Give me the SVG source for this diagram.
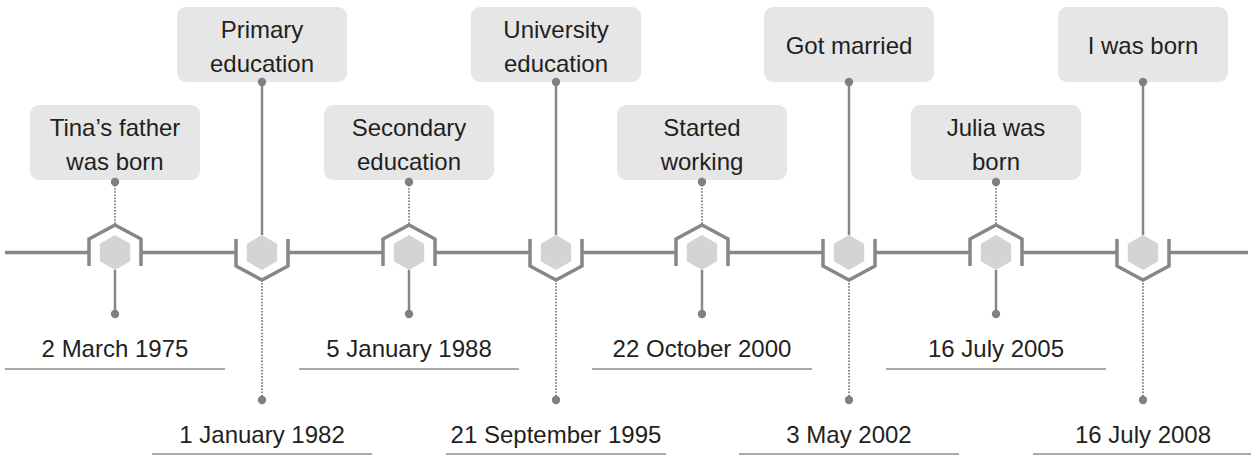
<svg xmlns="http://www.w3.org/2000/svg" xmlns:xlink="http://www.w3.org/1999/xlink" width="1251" height="456" viewBox="0 0 1251 456">
<style>
.main{stroke:#87878a;stroke-width:3.5;fill:none}
.outline{stroke:#87878a;stroke-width:3.5;fill:none;stroke-linejoin:miter}
.hex{fill:#d4d4d6}
.box{fill:#e6e6e7}
.solid{stroke:#87878a;stroke-width:2.5}
.dotted{stroke:#87878a;stroke-width:2;stroke-dasharray:1.5 1.6}
.dot{fill:#808084}
.ul{stroke:#8d8d90;stroke-width:1.5}
text{font-family:"Liberation Sans",Arial,sans-serif;font-size:24px;fill:#231f20;text-anchor:middle}
</style>
<defs>
<polygon id="hx" class="hex" points="0,235 15.2,243.75 15.2,261.25 0,270 -15.2,261.25 -15.2,243.75"/>
<polyline id="upo" class="outline" points="-26,266 -26,239 0,225 26,239 26,266"/>
<polyline id="dno" class="outline" points="-26,239 -26,266 0,280 26,266 26,239"/>
</defs>
<g id="connectors">
<line class="main" x1="5" y1="252.5" x2="89" y2="252.5"/>
<line class="main" x1="141" y1="252.5" x2="236" y2="252.5"/>
<line class="main" x1="288" y1="252.5" x2="383" y2="252.5"/>
<line class="main" x1="435" y1="252.5" x2="530" y2="252.5"/>
<line class="main" x1="582" y1="252.5" x2="676" y2="252.5"/>
<line class="main" x1="728" y1="252.5" x2="823" y2="252.5"/>
<line class="main" x1="875" y1="252.5" x2="970" y2="252.5"/>
<line class="main" x1="1022" y1="252.5" x2="1117" y2="252.5"/>
<line class="main" x1="1169" y1="252.5" x2="1248" y2="252.5"/>
</g>
<g id="n1">
<rect class="box" x="30" y="105" width="170" height="75" rx="9"/>
<text x="115" y="136">Tina’s father</text><text x="115" y="170">was born</text>
<line class="dotted" x1="115" y1="182" x2="115" y2="225"/><circle class="dot" cx="115" cy="182" r="4.2"/>
<use xlink:href="#upo" x="115"/><use xlink:href="#hx" x="115"/>
<line class="solid" x1="115" y1="270" x2="115" y2="314"/><circle class="dot" cx="115" cy="314" r="4.2"/>
<text x="115" y="357">2 March 1975</text>
<line class="ul" x1="5" y1="369" x2="225" y2="369"/>
</g>
<g id="n2">
<rect class="box" x="177" y="7" width="170" height="75" rx="9"/>
<text x="262" y="38">Primary</text><text x="262" y="72">education</text>
<line class="solid" x1="262" y1="82" x2="262" y2="235"/><circle class="dot" cx="262" cy="82" r="4.2"/>
<use xlink:href="#dno" x="262"/><use xlink:href="#hx" x="262"/>
<line class="dotted" x1="262" y1="280" x2="262" y2="400"/><circle class="dot" cx="262" cy="400" r="4.2"/>
<text x="262" y="443">1 January 1982</text>
<line class="ul" x1="152" y1="454" x2="372" y2="454"/>
</g>
<g id="n3">
<rect class="box" x="324" y="105" width="170" height="75" rx="9"/>
<text x="409" y="136">Secondary</text><text x="409" y="170">education</text>
<line class="dotted" x1="409" y1="182" x2="409" y2="225"/><circle class="dot" cx="409" cy="182" r="4.2"/>
<use xlink:href="#upo" x="409"/><use xlink:href="#hx" x="409"/>
<line class="solid" x1="409" y1="270" x2="409" y2="314"/><circle class="dot" cx="409" cy="314" r="4.2"/>
<text x="409" y="357">5 January 1988</text>
<line class="ul" x1="299" y1="369" x2="519" y2="369"/>
</g>
<g id="n4">
<rect class="box" x="471" y="7" width="170" height="75" rx="9"/>
<text x="556" y="38">University</text><text x="556" y="72">education</text>
<line class="solid" x1="556" y1="82" x2="556" y2="235"/><circle class="dot" cx="556" cy="82" r="4.2"/>
<use xlink:href="#dno" x="556"/><use xlink:href="#hx" x="556"/>
<line class="dotted" x1="556" y1="280" x2="556" y2="400"/><circle class="dot" cx="556" cy="400" r="4.2"/>
<text x="556" y="443">21 September 1995</text>
<line class="ul" x1="446" y1="454" x2="666" y2="454"/>
</g>
<g id="n5">
<rect class="box" x="617" y="105" width="170" height="75" rx="9"/>
<text x="702" y="136">Started</text><text x="702" y="170">working</text>
<line class="dotted" x1="702" y1="182" x2="702" y2="225"/><circle class="dot" cx="702" cy="182" r="4.2"/>
<use xlink:href="#upo" x="702"/><use xlink:href="#hx" x="702"/>
<line class="solid" x1="702" y1="270" x2="702" y2="314"/><circle class="dot" cx="702" cy="314" r="4.2"/>
<text x="702" y="357">22 October 2000</text>
<line class="ul" x1="592" y1="369" x2="812" y2="369"/>
</g>
<g id="n6">
<rect class="box" x="764" y="7" width="170" height="75" rx="9"/>
<text x="849" y="54">Got married</text>
<line class="solid" x1="849" y1="82" x2="849" y2="235"/><circle class="dot" cx="849" cy="82" r="4.2"/>
<use xlink:href="#dno" x="849"/><use xlink:href="#hx" x="849"/>
<line class="dotted" x1="849" y1="280" x2="849" y2="400"/><circle class="dot" cx="849" cy="400" r="4.2"/>
<text x="849" y="443">3 May 2002</text>
<line class="ul" x1="739" y1="454" x2="959" y2="454"/>
</g>
<g id="n7">
<rect class="box" x="911" y="105" width="170" height="75" rx="9"/>
<text x="996" y="136">Julia was</text><text x="996" y="170">born</text>
<line class="dotted" x1="996" y1="182" x2="996" y2="225"/><circle class="dot" cx="996" cy="182" r="4.2"/>
<use xlink:href="#upo" x="996"/><use xlink:href="#hx" x="996"/>
<line class="solid" x1="996" y1="270" x2="996" y2="314"/><circle class="dot" cx="996" cy="314" r="4.2"/>
<text x="996" y="357">16 July 2005</text>
<line class="ul" x1="886" y1="369" x2="1106" y2="369"/>
</g>
<g id="n8">
<rect class="box" x="1058" y="7" width="170" height="75" rx="9"/>
<text x="1143" y="54">I was born</text>
<line class="solid" x1="1143" y1="82" x2="1143" y2="235"/><circle class="dot" cx="1143" cy="82" r="4.2"/>
<use xlink:href="#dno" x="1143"/><use xlink:href="#hx" x="1143"/>
<line class="dotted" x1="1143" y1="280" x2="1143" y2="400"/><circle class="dot" cx="1143" cy="400" r="4.2"/>
<text x="1143" y="443">16 July 2008</text>
<line class="ul" x1="1033" y1="454" x2="1251" y2="454"/>
</g>
</svg>
